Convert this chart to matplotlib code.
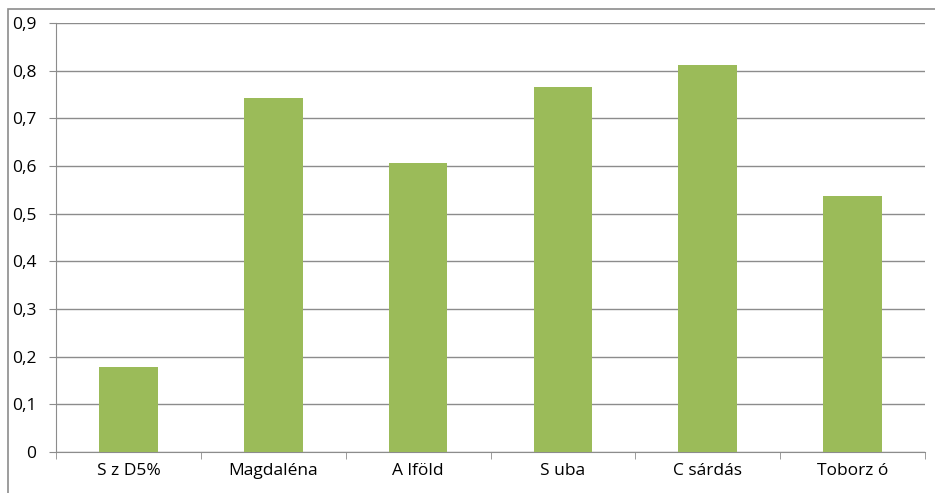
import numpy as np
import matplotlib.pyplot as plt
from matplotlib.patches import Rectangle
from matplotlib.ticker import FuncFormatter

# ---------- DATA ----------
categories = ["S z D5%", "Magdaléna", "A lföld", "S uba", "C sárdás", "Toborz ó"]
values = [0.178, 0.743, 0.606, 0.766, 0.812, 0.537]
yticks = [0, 0.1, 0.2, 0.3, 0.4, 0.5, 0.6, 0.7, 0.8, 0.9]

# ---------- PLOT ----------
plt.rcParams['font.family'] = ['Open Sans', 'DejaVu Sans']
W, H = 935, 493
fig = plt.figure(figsize=(W/100, H/100), dpi=100)
ax = fig.add_axes([56/W, 1 - 452/H, (925 - 56)/W, (452 - 23)/H])

x = np.arange(len(categories))
ax.bar(x, values, width=0.405, color='#9BBB59', zorder=3)

ax.set_xlim(-0.5, len(categories) - 0.5)
ax.set_ylim(0, 0.9)
ax.set_yticks(yticks)
ax.yaxis.set_major_formatter(FuncFormatter(lambda v, p: "0" if v == 0 else f"{v:.1f}".replace('.', ',')))
ax.set_xticks(x)
ax.set_xticklabels(categories)
ax.set_xticks(np.arange(len(categories) + 1) - 0.5, minor=True)

grid_col = '#8c8c8c'
ax.grid(axis='y', color=grid_col, linewidth=1.0, zorder=0)
for s in ['top', 'right']:
    ax.spines[s].set_visible(False)
ax.spines['left'].set_color(grid_col)
ax.spines['bottom'].set_color(grid_col)
ax.tick_params(axis='y', length=5, color=grid_col, labelsize=12.5, pad=9)
ax.tick_params(axis='x', which='major', length=0, labelsize=12.5, pad=8)
ax.tick_params(axis='x', which='minor', length=5, color=grid_col)

# chart frame (left and top edges visible)
fig.patches.append(Rectangle((7.5/W, -0.05), 1.2, 1 - 9.5/H + 0.05, transform=fig.transFigure,
                             fill=False, edgecolor='#8c8c8c', linewidth=1.2))

fig.savefig('out.png', dpi=100)
